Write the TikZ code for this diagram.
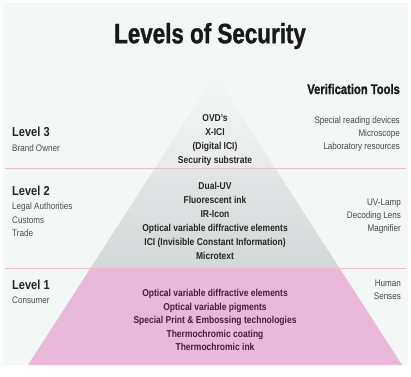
\documentclass[tikz,border=0pt]{standalone}
\usepackage{fontspec}
\setmainfont{Liberation Sans}[FakeStretch=0.85]
\newfontfamily\titlefont{Liberation Sans}[FakeStretch=0.80, BoldFeatures={FakeBold=1.2}]
\definecolor{bgc}{HTML}{F3F7F6}
\definecolor{topc}{HTML}{E8EBEA}
\definecolor{midtop}{HTML}{E3E6E6}
\definecolor{midbot}{HTML}{D4D8D8}
\definecolor{pinkc}{HTML}{EAB9DA}
\definecolor{sepink}{HTML}{EDBCD2}
\definecolor{purp}{HTML}{4A1C3C}
\begin{document}
\begin{tikzpicture}[x=1pt,y=-1pt,
  lbl/.style={inner sep=0pt, font=\fontsize{13}{15}\selectfont\bfseries, text=black!85, anchor=west},
  sub/.style={inner sep=0pt, font=\fontsize{9.5}{13.5}\selectfont, text=black!70, anchor=north west, align=left},
  tool/.style={inner sep=0pt, font=\fontsize{9.5}{13}\selectfont, text=black!72, anchor=east, align=right},
  ctr/.style={inner sep=0pt, font=\fontsize{10}{14}\selectfont\bfseries, text=black!85, align=center},
  sep/.style={draw=sepink, line width=0.9pt}]
\useasboundingbox (0,0) rectangle (411,376);
\fill[white] (0,0) rectangle (411,376);
\fill[bgc] (3,3) rectangle (408,365);
% pyramid
\shade[top color=bgc, bottom color=topc] (215,75) -- (275,168) -- (155,168) -- cycle;
\shade[top color=midtop, bottom color=midbot] (155,168) -- (275,168) -- (339.4,268) -- (90.6,268) -- cycle;
\fill[pinkc] (90.6,268) -- (339.4,268) -- (402,365) -- (28,365) -- cycle;
\draw[sep] (5,168) -- (406,168);
\draw[sep] (5,268) -- (406,268);
% title
\node[inner sep=0pt, font=\titlefont\fontsize{28}{30}\selectfont\bfseries, text=black!90] (title) at (210,36) {Levels of Security};
\node[inner sep=0pt, font=\titlefont\fontsize{14}{16}\selectfont\bfseries, text=black!90, anchor=east] (vt) at (400,89) {Verification Tools};
% left labels
\node[lbl] (l3) at (12,132) {Level 3};
\node[sub] (l3s) at (12,144.5) {Brand Owner};
\node[lbl] (l2) at (12,191) {Level 2};
\node[sub] (l2s) at (12,202.5) {Legal Authorities\\Customs\\Trade};
\node[lbl] (l1) at (12,285) {Level 1};
\node[sub] (l1s) at (12,296.5) {Consumer};
% right tools
\node[tool] (t3) at (400,134) {Special reading devices\\Microscope\\Laboratory resources};
\node[tool] (t2) at (401,216) {UV-Lamp\\Decoding Lens\\Magnifier};
\node[tool] (t1) at (401,289.5) {Human\\Senses};
% center texts
\node[ctr] (c3) at (215,140) {OVD's\\X-ICI\\(Digital ICI)\\Security substrate};
\node[ctr] (c2) at (215,221) {Dual-UV\\Fluorescent ink\\IR-Icon\\Optical variable diffractive elements\\ICI (Invisible Constant Information)\\Microtext};
\node[ctr, text=purp, font=\fontsize{10}{13.5}\selectfont\bfseries] (c1) at (215,320) {Optical variable diffractive elements\\Optical variable pigments\\Special Print \& Embossing technologies\\Thermochromic coating\\Thermochromic ink};
\end{tikzpicture}
\end{document}
